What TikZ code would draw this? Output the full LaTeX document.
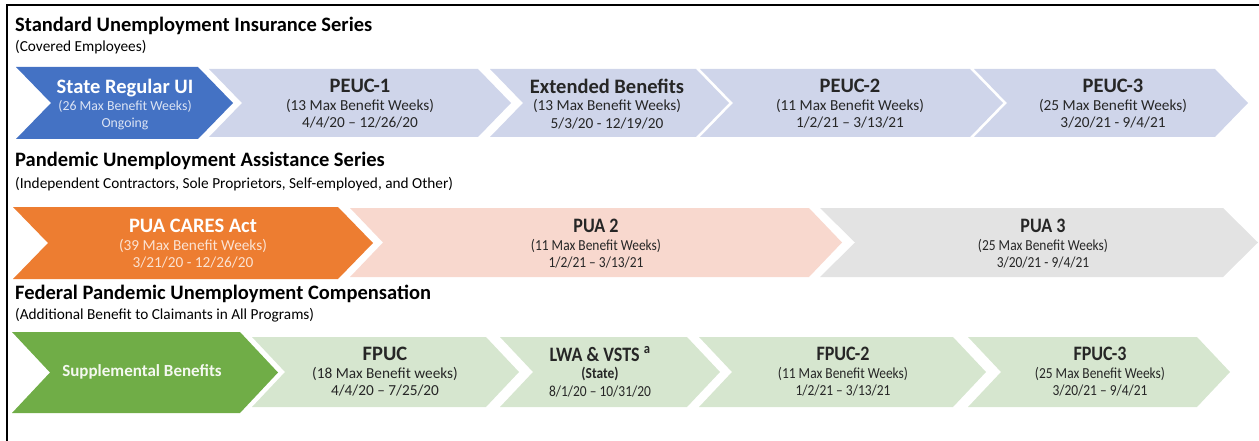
\documentclass[tikz,border=0pt]{standalone}
\usepackage{fontspec}
\setmainfont{Carlito}
\newfontfamily\narrowfont[Ligatures=TeX, FakeStretch=0.88]{Carlito}

\definecolor{uiblue}{HTML}{4472C4}
\definecolor{uipale}{HTML}{DCE4F4}
\definecolor{uilight}{HTML}{CFD5EA}
\definecolor{puaorange}{HTML}{ED7D31}
\definecolor{puapale}{HTML}{FBE3D3}
\definecolor{puapink}{HTML}{F8D8CE}
\definecolor{puagray}{HTML}{E3E3E3}
\definecolor{fpgreen}{HTML}{70AD47}
\definecolor{fplight}{HTML}{D6E6CF}
\definecolor{ink}{HTML}{262626}

\newcommand{\titf}{\fontsize{20.5}{17.5}\selectfont\bfseries}
\newcommand{\subf}{\fontsize{15.3}{17.5}\selectfont}

% chevron: fill, left x, tip x, top y, bottom y, point depth
\newcommand{\chev}[6]{%
  \fill[#1] (#2,#4) -- ({#3-#6},#4) -- (#3,{(#4+#5)/2}) -- ({#3-#6},#5)
    -- (#2,#5) -- ({#2+#6},{(#4+#5)/2}) -- cycle;}

\begin{document}
\begin{tikzpicture}[
  x=1pt, y=-1pt,
  head/.style={anchor=base west, inner sep=0pt, text=black, font=\titf},
  note/.style={anchor=base west, inner sep=0pt, text=black, font=\subf},
  chevtxt/.style={align=center, inner sep=0pt, text=ink, font=\subf},
  narrowtxt/.style={chevtxt, font=\narrowfont\subf},
]
\useasboundingbox (0,0) rectangle (1259,441);
% frame (top and left edge only)
\draw[line width=2.5pt] (7,441) -- (7,5) -- (1259,5);

% standard UI series
\node[head] (h1) at (15,32) {Standard Unemployment Insurance Series};
\node[note] (n1) at (15,52) {(Covered Employees)};
\chev{uiblue}{16}{233}{67}{139}{35}
\chev{uilight}{209}{511}{69}{137}{33}
\chev{uilight}{490}{729}{69}{137}{33}
\chev{uilight}{700}{1003}{69}{137}{33}
\chev{uilight}{974}{1248}{69}{137}{33}
\node[chevtxt, text=white, font=\fontsize{13.8}{17}\selectfont] (srui) at (125,104)
  {{\titf State Regular UI}\\{\color{uipale}(26 Max Benefit Weeks)}\\{\color{uipale}Ongoing}};
\node[chevtxt] (peuc1) at (360,104) {{\titf PEUC-1}\\(13 Max Benefit Weeks)\\4/4/20 -- 12/26/20};
\node[chevtxt] (eb) at (607,104) {{\titf Extended Benefits}\\(13 Max Benefit Weeks)\\5/3/20 - 12/19/20};
\node[chevtxt] (peuc2) at (850,104) {{\titf PEUC-2}\\(11 Max Benefit Weeks)\\1/2/21 -- 3/13/21};
\node[chevtxt] (peuc3) at (1113,104) {{\titf PEUC-3}\\(25 Max Benefit Weeks)\\3/20/21 - 9/4/21};

% pandemic assistance series
\node[head] (h2) at (15,167) {Pandemic Unemployment Assistance Series};
\node[note] (n2) at (15,189) {(Independent Contractors, Sole Proprietors, Self-employed, and Other)};
\chev{puaorange}{13}{373}{207}{279}{35}
\chev{puapink}{350}{842}{208}{277}{33}
\chev{puagray}{820}{1258}{208}{277}{35}
\node[chevtxt, text=white] (cares) at (193,244)
  {{\titf PUA CARES Act}\\{\color{puapale}(39 Max Benefit Weeks)}\\{\color{puapale}3/21/20 - 12/26/20}};
\node[narrowtxt] (pua2) at (596,244) {{\titf PUA 2}\\(11 Max Benefit Weeks)\\1/2/21 -- 3/13/21};
\node[narrowtxt] (pua3) at (1043,244) {{\titf PUA 3}\\(25 Max Benefit Weeks)\\3/20/21 - 9/4/21};

% federal compensation
\node[head] (h3) at (15,299) {Federal Pandemic Unemployment Compensation};
\node[note] (n3) at (15,319) {(Additional Benefit to Claimants in All Programs)};
\chev{fpgreen}{12}{278}{332}{413}{38}
\chev{fplight}{252}{519}{337}{407}{33}
\chev{fplight}{500}{720}{337}{407}{33}
\chev{fplight}{699}{986}{337}{407}{33}
\chev{fplight}{968}{1230}{337}{407}{33}
\node[chevtxt, text=white!92!fpgreen, font=\fontsize{17}{17}\selectfont\bfseries] (supp) at (142,372) {Supplemental Benefits};
\node[chevtxt] (fpuc) at (385,372) {{\titf FPUC}\\(18 Max Benefit weeks)\\4/4/20 -- 7/25/20};
\node[narrowtxt] (lwa) at (600,372) {{\titf LWA \& VSTS \textsuperscript{a}}\\\textbf{(State)}\\8/1/20 -- 10/31/20};
\node[narrowtxt] (fpuc2) at (843,372) {{\titf FPUC-2}\\(11 Max Benefit Weeks)\\1/2/21 -- 3/13/21};
\node[narrowtxt] (fpuc3) at (1100,372) {{\titf FPUC-3}\\(25 Max Benefit Weeks)\\3/20/21 -- 9/4/21};
\end{tikzpicture}
\end{document}
